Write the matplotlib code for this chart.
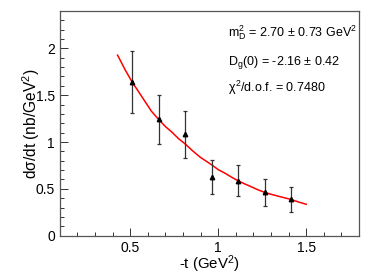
import matplotlib
matplotlib.use("Agg")
import matplotlib.pyplot as plt
from matplotlib.ticker import MultipleLocator

plt.rcParams['font.family'] = ['Liberation Sans', 'DejaVu Sans']
plt.rcParams['mathtext.fontset'] = 'custom'
plt.rcParams['mathtext.rm'] = 'Liberation Sans'
plt.rcParams['mathtext.it'] = 'Liberation Sans'

# measured points
t_vals = [0.511, 0.661, 0.8125, 0.964, 1.112, 1.263, 1.411]
dsdt = [1.637, 1.242, 1.082, 0.623, 0.587, 0.463, 0.388]
dsdt_err = [0.33, 0.265, 0.25, 0.18, 0.165, 0.142, 0.136]

# fit curve
fit_t = [0.428, 0.47, 0.511, 0.55, 0.585, 0.62, 0.661, 0.70, 0.74, 0.775, 0.8125, 0.855, 0.898,
         0.964, 1.00, 1.04, 1.075, 1.112, 1.15, 1.19, 1.225, 1.263, 1.30, 1.34, 1.375, 1.411, 1.455, 1.5]
fit_y = [1.928, 1.775, 1.64, 1.53, 1.43, 1.33, 1.242, 1.165, 1.10, 1.035, 0.979, 0.905, 0.837,
         0.755, 0.705, 0.665, 0.625, 0.587, 0.553, 0.52, 0.49, 0.463, 0.442, 0.422, 0.405, 0.388, 0.36, 0.335]

labels = [r"m$^{2}_{D}$ = 2.70 $\pm$ 0.73 GeV$^{2}$",
          r"D$_{g}$(0) = -2.16 $\pm$ 0.42",
          r"$\chi^{2}$/d.o.f. = 0.7480"]
label_y = [33, 62, 88]

fig = plt.figure(figsize=(3.74, 2.74), dpi=100)
ax = fig.add_axes([0.160, 0.140, 0.800, 0.820])

ax.plot(fit_t, fit_y, color='red', lw=1.1, zorder=2)
ax.errorbar(t_vals, dsdt, yerr=dsdt_err, fmt='^', color='black', ms=3.2,
            ecolor='#333333', elinewidth=0.9, capsize=1.6, capthick=0.9, zorder=3)

ax.set_xlim(0.1, 1.8)
ax.set_ylim(0, 2.4)
ax.xaxis.set_major_locator(MultipleLocator(0.5))
ax.xaxis.set_minor_locator(MultipleLocator(0.1))
ax.yaxis.set_major_locator(MultipleLocator(0.5))
ax.yaxis.set_minor_locator(MultipleLocator(0.1))
ax.tick_params(which='both', direction='in', top=False, right=False,
               labelsize=10, color='#333333')
ax.tick_params(which='major', length=6, width=0.7)
ax.tick_params(which='minor', length=3, width=0.7)
ax.xaxis.set_major_formatter(plt.FuncFormatter(lambda v, p: f"{v:g}"))
ax.yaxis.set_major_formatter(plt.FuncFormatter(lambda v, p: f"{v:g}"))
for s in ax.spines.values():
    s.set_color('#555555')
    s.set_linewidth(0.9)

ax.set_xlabel(r"-t (GeV$^{2}$)", fontsize=10.8, va='center')
ax.set_ylabel(r"d$\sigma$/dt (nb/GeV$^{2}$)", fontsize=11.2, va='center')
ax.xaxis.set_label_coords(0.5, -0.128)
ax.yaxis.set_label_coords(-0.097, 0.5)

for yy, txt in zip(label_y, labels):
    fig.text(228 / 374, 1 - yy / 274, txt, fontsize=9,
             ha='left', va='center')

fig.savefig("out.png", dpi=100)
